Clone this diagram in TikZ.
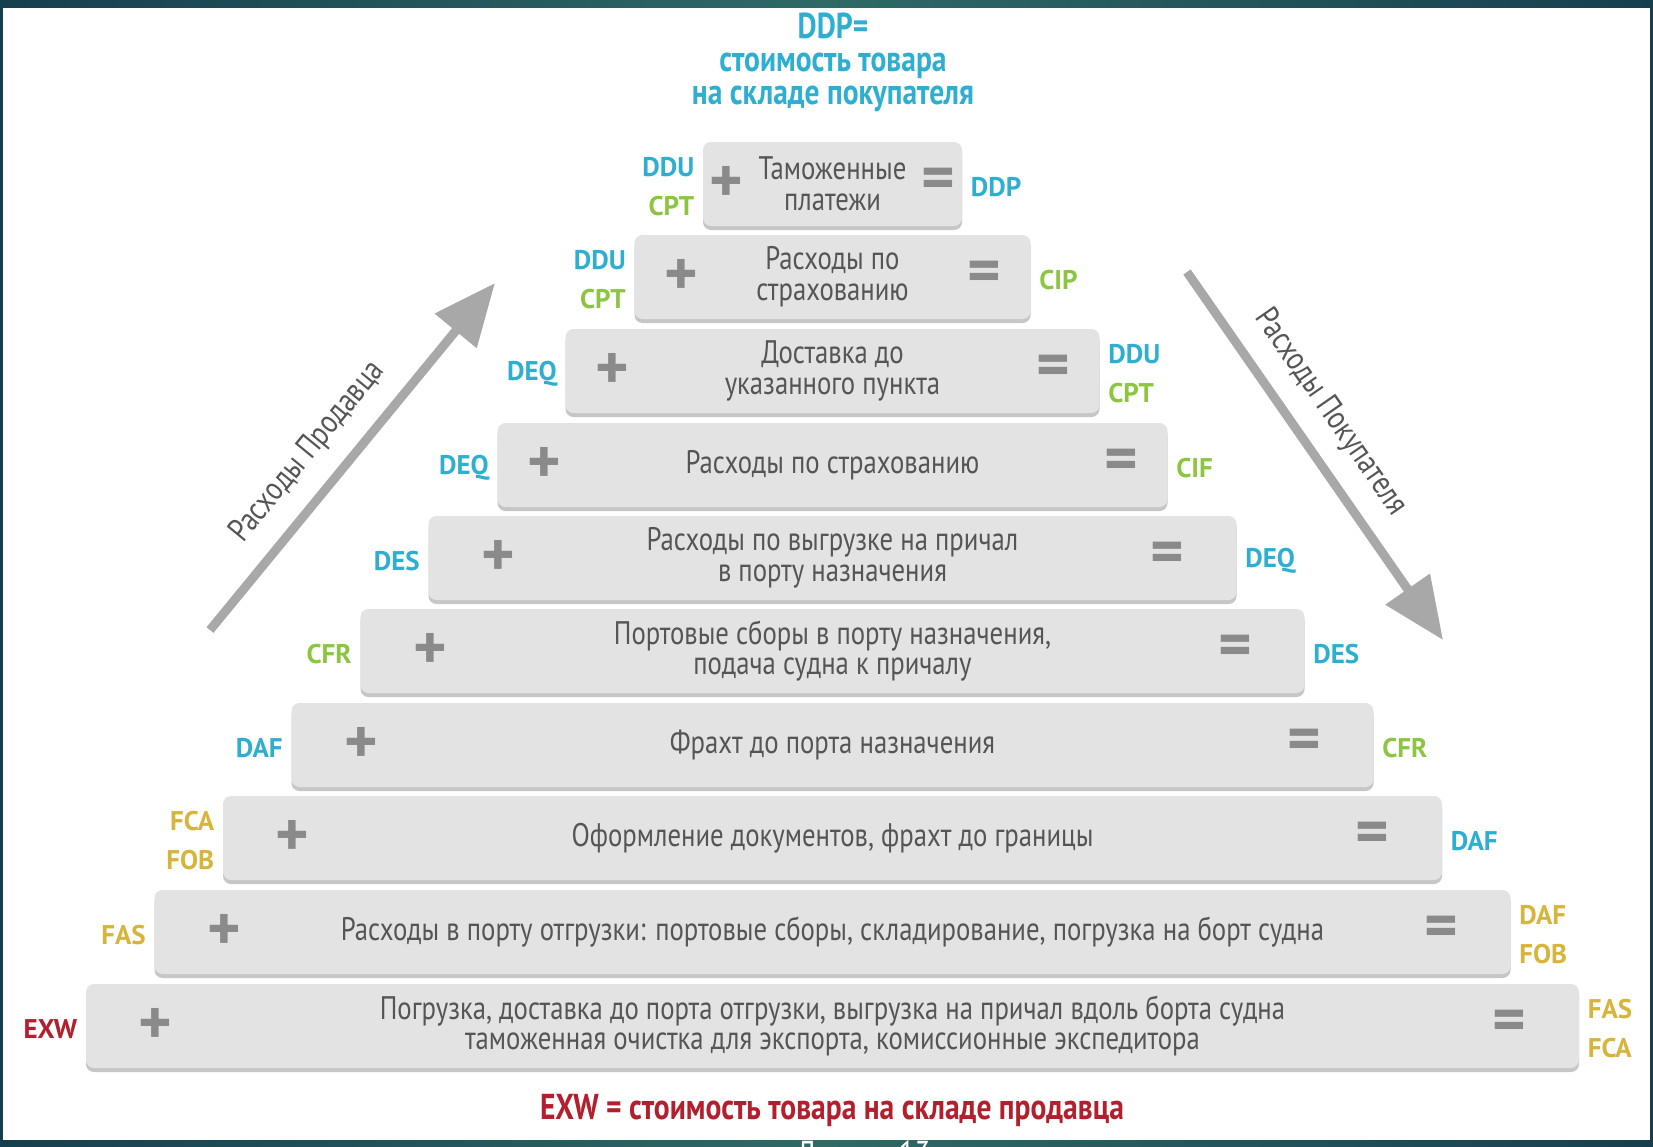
\documentclass[tikz,border=0pt]{standalone}
\usepackage{fontspec}
\setmainfont{PT Sans}[FakeStretch=0.82]
\newfontfamily\signfont{PT Sans}
\usetikzlibrary{positioning,arrows.meta,shadows}
\definecolor{cblue}{HTML}{2EAFD2}
\definecolor{cgreen}{HTML}{8CC540}
\definecolor{cgold}{HTML}{D7B43A}
\definecolor{cred}{HTML}{B3202D}
\definecolor{boxgray}{HTML}{E3E3E3}
\definecolor{shadowgray}{HTML}{C6C6C6}
\definecolor{txtgray}{HTML}{555555}
\definecolor{signgray}{HTML}{8A8A8A}
\definecolor{arrowgray}{HTML}{A8A8A8}
\definecolor{frameout}{HTML}{163F4E}
\definecolor{framemid}{HTML}{2F6A66}
\tikzset{
    tier/.style={rounded corners=4pt, fill=boxgray, minimum height=42pt, inner sep=0pt,
        drop shadow={shadow xshift=0pt, shadow yshift=-2pt, opacity=1, fill=shadowgray},
        align=center, text=txtgray, font=\fontsize{16.3}{15.3}\selectfont},
    sign/.style={text=signgray, inner sep=0pt, font=\signfont\bfseries\fontsize{32}{32}\selectfont},
    lbl/.style={inner sep=0pt, yshift=-1.5pt, font=\signfont\bfseries\fontsize{13.5}{19.5}\selectfont},
    lleft/.style={lbl, anchor=east, align=right},
    lright/.style={lbl, anchor=west, align=left},
    headline/.style={inner sep=0pt, align=center, font=\bfseries\fontsize{18}{16.5}\selectfont},
    costarrow/.style={draw=arrowgray, line width=4.5pt, -{Triangle[length=31pt, width=26pt]}},
    costlabel/.style={sloped, above=9pt, inner sep=0pt, text=txtgray, font=\fontsize{16.5}{16.5}\selectfont}
}
\begin{document}
\begin{tikzpicture}[x=0.5pt, y=-0.5pt]
    \useasboundingbox (0,0) rectangle (1653,1146);
    \fill[white] (0,0) rectangle (1653,1146);
    \shade[left color=frameout, right color=frameout, middle color=framemid] (0,0) rectangle (1653,7);
    \shade[left color=frameout, right color=frameout, middle color=framemid] (0,1140) rectangle (1653,1146);
    \fill[frameout] (0,0) rectangle (3,1146);
    \fill[frameout] (1650,0) rectangle (1653,1146);
    \node[anchor=base, text=white, font=\fontsize{18}{18}\selectfont] (lect) at (864,1166) {Лекция 13};

    \node[headline, text=cblue] (ddp) at (833,62) {DDP=\\стоимость товара\\на складе покупателя};
    \node[headline, text=cred] (exw) at (832,1110) {EXW = стоимость товара на складе продавца};

    \node[tier, minimum width=129.5pt] (t1) at (832.5,184) {Таможенные\\платежи};
    \node[tier, minimum width=198pt] (t2) at (832.5,277) {Расходы по\\страхованию};
    \node[tier, minimum width=267pt] (t3) at (832.5,371) {Доставка до\\указанного пункта};
    \node[tier, minimum width=335pt] (t4) at (832.5,465) {Расходы по страхованию};
    \node[tier, minimum width=404pt] (t5) at (832.5,558) {Расходы по выгрузке на причал\\в порту назначения};
    \node[tier, minimum width=472pt] (t6) at (832.5,651) {Портовые сборы в порту назначения,\\подача судна к причалу};
    \node[tier, minimum width=541pt] (t7) at (832.5,745) {Фрахт до порта назначения};
    \node[tier, minimum width=609.5pt] (t8) at (832.5,838) {Оформление документов, фрахт до границы};
    \node[tier, minimum width=678pt] (t9) at (832.5,932) {Расходы в порту отгрузки: портовые сборы, складирование, погрузка на борт судна};
    \node[tier, minimum width=746.5pt] (t10) at (832.5,1026) {Погрузка, доставка до порта отгрузки, выгрузка на причал вдоль борта судна\\таможенная очистка для экспорта, комиссионные экспедитора};

    \node[sign] (p1) at ([xshift=12pt]t1.west) {+};
    \node[sign] (e1) at ([xshift=-12pt]t1.east) {=};
    \node[sign] (p2) at ([xshift=23.5pt]t2.west) {+};
    \node[sign] (e2) at ([xshift=-23.5pt]t2.east) {=};
    \node[sign] (p3) at ([xshift=23.5pt]t3.west) {+};
    \node[sign] (e3) at ([xshift=-23.5pt]t3.east) {=};
    \node[sign] (p4) at ([xshift=23.5pt]t4.west) {+};
    \node[sign] (e4) at ([xshift=-23.5pt]t4.east) {=};
    \node[sign] (p5) at ([xshift=35pt]t5.west) {+};
    \node[sign] (e5) at ([xshift=-35pt]t5.east) {=};
    \node[sign] (p6) at ([xshift=35pt]t6.west) {+};
    \node[sign] (e6) at ([xshift=-35pt]t6.east) {=};
    \node[sign] (p7) at ([xshift=35pt]t7.west) {+};
    \node[sign] (e7) at ([xshift=-35pt]t7.east) {=};
    \node[sign] (p8) at ([xshift=35pt]t8.west) {+};
    \node[sign] (e8) at ([xshift=-35pt]t8.east) {=};
    \node[sign] (p9) at ([xshift=35pt]t9.west) {+};
    \node[sign] (e9) at ([xshift=-35pt]t9.east) {=};
    \node[sign] (p10) at ([xshift=35pt]t10.west) {+};
    \node[sign] (e10) at ([xshift=-35pt]t10.east) {=};

    \node[lleft] (l1) at ([xshift=-4pt]t1.west) {\textcolor{cblue}{DDU}\\\textcolor{cgreen}{CPT}};
    \node[lright, text=cblue] (r1) at ([xshift=4pt]t1.east) {DDP};
    \node[lleft] (l2) at ([xshift=-4pt]t2.west) {\textcolor{cblue}{DDU}\\\textcolor{cgreen}{CPT}};
    \node[lright, text=cgreen] (r2) at ([xshift=4pt]t2.east) {CIP};
    \node[lleft, text=cblue] (l3) at ([xshift=-4pt]t3.west) {DEQ};
    \node[lright] (r3) at ([xshift=4pt]t3.east) {\textcolor{cblue}{DDU}\\\textcolor{cgreen}{CPT}};
    \node[lleft, text=cblue] (l4) at ([xshift=-4pt]t4.west) {DEQ};
    \node[lright, text=cgreen] (r4) at ([xshift=4pt]t4.east) {CIF};
    \node[lleft, text=cblue] (l5) at ([xshift=-4pt]t5.west) {DES};
    \node[lright, text=cblue] (r5) at ([xshift=4pt]t5.east) {DEQ};
    \node[lleft, text=cgreen] (l6) at ([xshift=-4pt]t6.west) {CFR};
    \node[lright, text=cblue] (r6) at ([xshift=4pt]t6.east) {DES};
    \node[lleft, text=cblue] (l7) at ([xshift=-4pt]t7.west) {DAF};
    \node[lright, text=cgreen] (r7) at ([xshift=4pt]t7.east) {CFR};
    \node[lleft, text=cgold] (l8) at ([xshift=-4pt]t8.west) {FCA\\FOB};
    \node[lright, text=cblue] (r8) at ([xshift=4pt]t8.east) {DAF};
    \node[lleft, text=cgold] (l9) at ([xshift=-4pt]t9.west) {FAS};
    \node[lright, text=cgold] (r9) at ([xshift=4pt]t9.east) {DAF\\FOB};
    \node[lleft, text=cred] (l10) at ([xshift=-4pt]t10.west) {EXW};
    \node[lright, text=cgold] (r10) at ([xshift=4pt]t10.east) {FAS\\FCA};

    \coordinate (sellstart) at (210,630);
    \coordinate (sellend) at (495,283);
    \coordinate (buystart) at (1187,272);
    \coordinate (buyend) at (1443,640);
    \draw[costarrow] (sellstart) -- node[costlabel, pos=0.445] {Расходы Продавца} (sellend);
    \draw[costarrow] (buystart) -- node[costlabel, pos=0.44] {Расходы Покупателя} (buyend);
\end{tikzpicture}
\end{document}
